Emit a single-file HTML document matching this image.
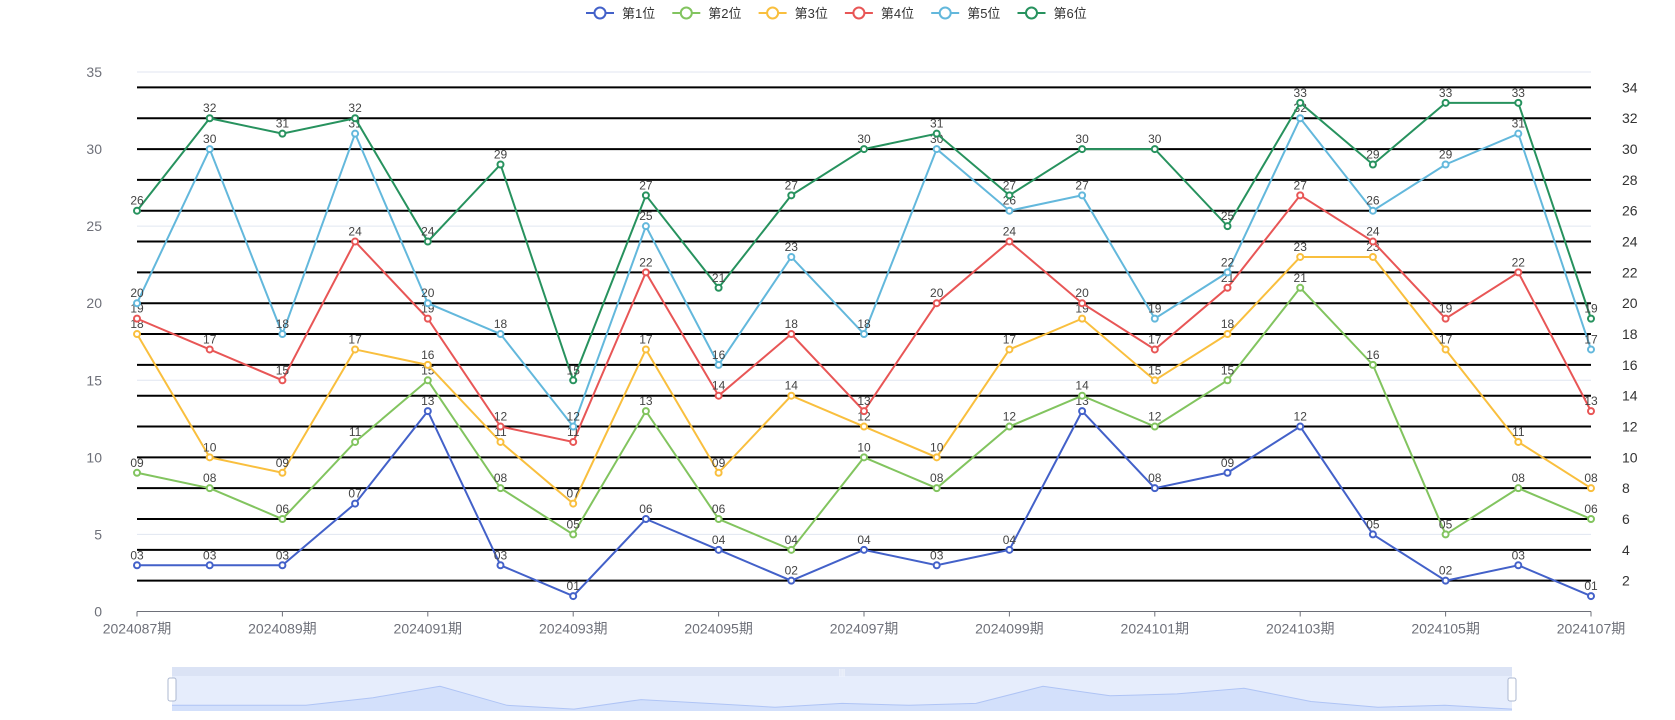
<!DOCTYPE html>
<html><head><meta charset="utf-8">
<style>
html,body{margin:0;padding:0;background:#fff;}
svg{display:block;font-family:"Liberation Sans","Noto Sans CJK SC",sans-serif;}
</style></head>
<body>
<svg id="chart" width="1675" height="720" viewBox="0 0 1675 720" xmlns="http://www.w3.org/2000/svg"></svg>
<script>
const categories = ["2024087期","2024088期","2024089期","2024090期","2024091期","2024092期","2024093期","2024094期","2024095期","2024096期","2024097期","2024098期","2024099期","2024100期","2024101期","2024102期","2024103期","2024104期","2024105期","2024106期","2024107期"];
const seriesNames = ["第1位","第2位","第3位","第4位","第5位","第6位"];
const s1 = [3,3,3,7,13,3,1,6,4,2,4,3,4,13,8,9,12,5,2,3,1];
const s2 = [9,8,6,11,15,8,5,13,6,4,10,8,12,14,12,15,21,16,5,8,6];
const s3 = [18,10,9,17,16,11,7,17,9,14,12,10,17,19,15,18,23,23,17,11,8];
const s4 = [19,17,15,24,19,12,11,22,14,18,13,20,24,20,17,21,27,24,19,22,13];
const s5 = [20,30,18,31,20,18,12,25,16,23,18,30,26,27,19,22,32,26,29,31,17];
const s6 = [26,32,31,32,24,29,15,27,21,27,30,31,27,30,30,25,33,29,33,33,19];
const leftTicks = [0,5,10,15,20,25,30,35];
const rightTicks = [2,4,6,8,10,12,14,16,18,20,22,24,26,28,30,32,34];
const colors = ["#4361c9","#82c45f","#f9bf3e","#e85656","#63b8dc","#27925e"];
const allSeries = [s1,s2,s3,s4,s5,s6];

const NS="http://www.w3.org/2000/svg";
const svg=document.getElementById('chart');
function mk(tag,attrs,parent){const e=document.createElementNS(NS,tag);for(const k in attrs)e.setAttribute(k,attrs[k]);(parent||svg).appendChild(e);return e;}
const X0=137,X1=1591,Y0=611.5,YMAX=35,YTOP=72;
function xs(i){return X0+(X1-X0)*i/(categories.length-1);}
function ys(v){return Y0-(Y0-YTOP)*v/YMAX;}

// left grid + labels
leftTicks.forEach(v=>{
  if(v>0){const l=mk('line',{x1:X0,x2:X1,y1:ys(v),y2:ys(v),stroke:'#e0e6f1','stroke-width':1});
  }
  const t=mk('text',{x:102,y:ys(v)+5,'text-anchor':'end','font-size':14,fill:'#6e7079'});
  t.textContent=v;
  
});
// right black grid + labels
rightTicks.forEach(v=>{
  const l=mk('line',{x1:X0,x2:X1,y1:ys(v),y2:ys(v),stroke:'#000','stroke-width':2});
  
  const t=mk('text',{x:1622,y:ys(v)+5,'font-size':14,fill:'#333'});
  t.textContent=v;
  
});
// x axis
const ax=mk('line',{x1:X0,x2:X1,y1:Y0,y2:Y0,stroke:'#6e7079','stroke-width':1});

categories.forEach((c,i)=>{
  if(i%2===0){
    const tk=mk('line',{x1:xs(i),x2:xs(i),y1:Y0,y2:Y0+5,stroke:'#6e7079'});
    
    const t=mk('text',{x:xs(i),y:Y0+22,'text-anchor':'middle','font-size':14,fill:'#6e7079'});
    t.textContent=c;
    
  }
});
// series
allSeries.forEach((s,k)=>{
  const g=mk('g',{});
  
  const p=mk('polyline',{points:s.map((v,i)=>xs(i)+','+ys(v)).join(' '),fill:'none',stroke:colors[k],'stroke-width':2},g);
  
  s.forEach((v,i)=>{
    const c=mk('circle',{cx:xs(i),cy:ys(v),r:3,fill:'#fff',stroke:colors[k],'stroke-width':2},g);
    
    const t=mk('text',{x:xs(i),y:ys(v)-6,'text-anchor':'middle','font-size':12,fill:'#444'},g);
    t.textContent=String(v).padStart(2,'0');
    
  });
});
// legend
seriesNames.forEach((n,k)=>{
  const x=586+k*86.3;
  const g=mk('g',{});
  
  mk('line',{x1:x,x2:x+28,y1:13,y2:13,stroke:colors[k],'stroke-width':2},g);
  mk('circle',{cx:x+14,cy:13,r:5.5,fill:'#fff',stroke:colors[k],'stroke-width':2},g);
  const t=mk('text',{x:x+36,y:18,'font-size':13,fill:'#333'},g);
  t.textContent=n;
});
// data zoom
const DZ0=172,DZ1=1512,DZT=667,DZB=711;
const dz=mk('g',{});

mk('rect',{x:DZ0,y:DZT,width:DZ1-DZ0,height:DZB-DZT,fill:'#e6edfc'},dz);
mk('rect',{x:DZ0,y:DZT,width:DZ1-DZ0,height:9,fill:'#dbe3f5'},dz);
const smax=35;
function dzx(i){return DZ0+(DZ1-DZ0)*i/(categories.length-1);}
function dzy(v){return DZB-(DZB-DZT-9)*v/smax*1.9;}
const shadowPts=s1.map((v,i)=>dzx(i)+','+dzy(v)).join(' ');
const area=mk('polygon',{points:DZ0+','+DZB+' '+shadowPts+' '+DZ1+','+DZB,fill:'#d3e0fb'},dz);

mk('polyline',{points:shadowPts,fill:'none',stroke:'#afc4f5','stroke-width':1},dz);
const mh=mk('text',{x:(DZ0+DZ1)/2,y:DZT+8,'text-anchor':'middle','font-size':8,fill:'#fff'},dz);mh.textContent='|||';
[DZ0,DZ1].forEach(x=>{
  const h=mk('rect',{x:x-4,y:DZT+11,width:8,height:23,rx:2,fill:'#fff',stroke:'#acb8d1','stroke-width':1},dz);
  
});
</script>
</body></html>
